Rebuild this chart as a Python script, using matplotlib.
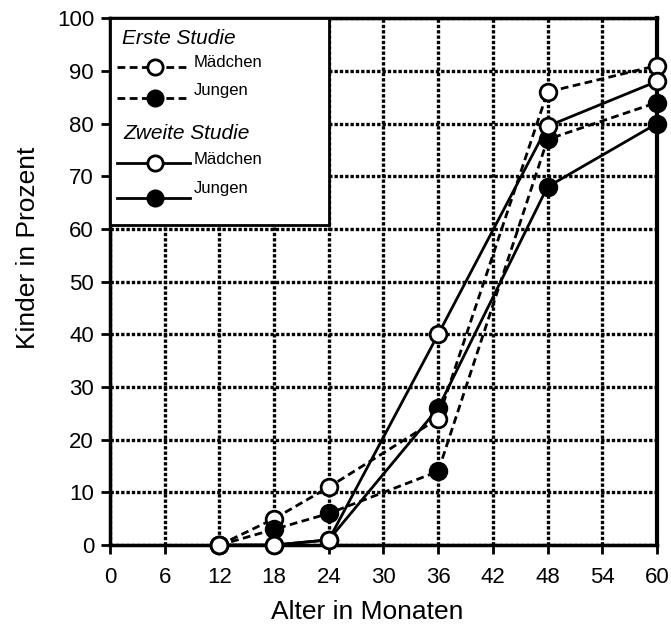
import matplotlib
matplotlib.use('Agg')
import matplotlib.pyplot as plt
from matplotlib.patches import Rectangle

plt.rcParams['font.family'] = ['Liberation Sans', 'DejaVu Sans']

# Alter in Monaten
months = [12, 18, 24, 36, 48, 60]

# Erste Studie
erste_maedchen = [0, 5, 11, 24, 86, 91]
erste_jungen = [0, 3, 6, 14, 77, 84]
# Zweite Studie
zweite_maedchen = [0, 0, 1, 40, 79.5, 88]
zweite_jungen = [0, 0, 1, 26, 68, 80]

x_ticks = [0, 6, 12, 18, 24, 30, 36, 42, 48, 54, 60]
y_ticks = [0, 10, 20, 30, 40, 50, 60, 70, 80, 90, 100]

fig = plt.figure(figsize=(6.71, 6.28), dpi=100)
ax = fig.add_axes([0.164, 0.132, 0.815, 0.839])

ax.set_xlim(0, 60)
ax.set_ylim(0, 100)
ax.set_xticks(x_ticks)
ax.set_yticks(y_ticks)
ax.grid(True, color='black', linestyle=(0, (1, 0.6)), linewidth=2.4, zorder=0)
for s in ax.spines.values():
    s.set_linewidth(2.5)
ax.spines['right'].set_linewidth(3)
ax.tick_params(direction='out', length=6.5, width=2, labelsize=16)
ax.tick_params(axis='x', pad=9)
ax.tick_params(axis='y', pad=5)

dashed = (0, (2.8, 1.6))
mk = 12
ax.plot(months, erste_maedchen, color='black', lw=2, linestyle=dashed,
        marker='o', ms=mk, mfc='white', mec='black', mew=2, zorder=4, clip_on=False)
ax.plot(months, erste_jungen, color='black', lw=2, linestyle=dashed,
        marker='o', ms=mk, mfc='black', mec='black', mew=2, zorder=4, clip_on=False)
ax.plot(months, zweite_maedchen, color='black', lw=2, linestyle='-',
        marker='o', ms=mk, mfc='white', mec='black', mew=2, zorder=4, clip_on=False)
ax.plot(months, zweite_jungen, color='black', lw=2, linestyle='-',
        marker='o', ms=mk, mfc='black', mec='black', mew=2, zorder=3, clip_on=False)

# legend box drawn by hand
ax.add_patch(Rectangle((0, 60.7), 24, 39.3, facecolor='white', edgecolor='black',
                       lw=2, zorder=5))
ax.text(1.3, 96.2, 'Erste Studie', style='italic', fontsize=15, va='center', zorder=6)
ax.text(1.5, 78.2, 'Zweite Studie', style='italic', fontsize=15, va='center', zorder=6)
legend_rows = [
    (90.7, dashed, 'white', 'Mädchen', 91.5),
    (84.8, dashed, 'black', 'Jungen', 86.3),
    (72.5, '-', 'white', 'Mädchen', 73.1),
    (65.8, '-', 'black', 'Jungen', 67.7),
]
for yy, ls, fc, lab, ty in legend_rows:
    ax.plot([0.8, 8.8], [yy, yy], color='black', lw=2, linestyle=ls, zorder=6)
    ax.plot([4.9], [yy], marker='o', ms=mk - 1, mfc=fc, mec='black', mew=2, zorder=7)
    ax.text(9.2, ty, lab, fontsize=12, va='center', zorder=7)

ax.set_xlabel('Alter in Monaten', fontsize=19)
ax.set_ylabel('Kinder in Prozent', fontsize=19)
ax.xaxis.set_label_coords(0.47, -0.127)
ax.yaxis.set_label_coords(-0.15, 0.565)
ax.xaxis.label.set_va('center')
ax.yaxis.label.set_va('center')

fig.savefig('out.png', dpi=100)
